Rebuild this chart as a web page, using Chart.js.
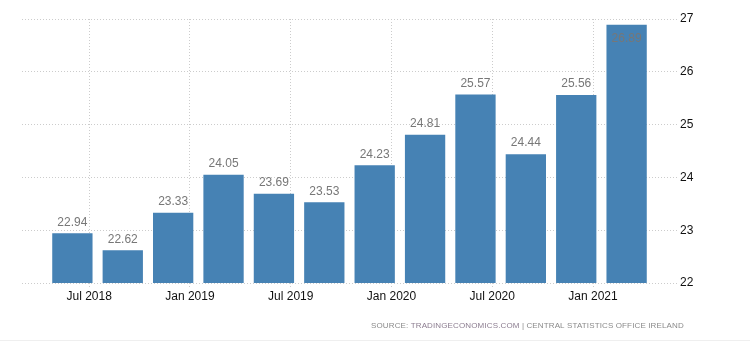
<!DOCTYPE html>
<html>
<head>
<meta charset="utf-8">
<script src="https://cdn.jsdelivr.net/npm/chart.js@4.4.1/dist/chart.umd.min.js"></script>
<style>
  html, body { margin: 0; padding: 0; background: #fff; }
  #wrap { position: relative; width: 750px; height: 343px; }
</style>
</head>
<body>
<div id="wrap"><canvas id="chart" width="750" height="343"></canvas></div>
<script>
const quarters = ['2018 Q2', '2018 Q3', '2018 Q4', '2019 Q1', '2019 Q2', '2019 Q3', '2019 Q4', '2020 Q1', '2020 Q2', '2020 Q3', '2020 Q4', '2021 Q1'];
const values = [22.94, 22.62, 23.33, 24.05, 23.69, 23.53, 24.23, 24.81, 25.57, 24.44, 25.56, 26.89];
const tickLabels = ['Jul 2018', 'Jan 2019', 'Jul 2019', 'Jan 2020', 'Jul 2020', 'Jan 2021'];
const yMin = 22;
const yMax = 27;
const sourceParts = ['SOURCE: ', 'TRADINGECONOMICS.COM', ' | CENTRAL STATISTICS OFFICE IRELAND'];

const MONTHS = ['Jan', 'Feb', 'Mar', 'Apr', 'May', 'Jun', 'Jul', 'Aug', 'Sep', 'Oct', 'Nov', 'Dec'];
const BASE_YEAR = 2018;
const FONT = '"Liberation Sans", Arial, sans-serif';

// month index counted from Jan of BASE_YEAR
function quarterToMonth(q) {
  const [y, qq] = q.split(' ');
  return (Number(y) - BASE_YEAR) * 12 + Number(qq.slice(1)) * 3 - 1;
}

function labelToMonth(l) {
  const [m, y] = l.split(' ');
  return (Number(y) - BASE_YEAR) * 12 + MONTHS.indexOf(m);
}

const points = quarters.map((q, i) => ({ x: quarterToMonth(q), y: values[i] }));

const valueLabels = {
  id: 'valueLabels',
  afterDatasetsDraw(chart) {
    const ctx = chart.ctx;
    const top = chart.chartArea.top;
    ctx.save();
    ctx.font = '12px ' + FONT;
    ctx.fillStyle = '#777';
    ctx.textAlign = 'center';
    chart.getDatasetMeta(0).data.forEach((bar, i) => {
      const text = values[i].toFixed(2);
      if (bar.y - 20 < top) {
        // no room above the bar, put it inside
        ctx.textBaseline = 'top';
        ctx.fillText(text, bar.x, bar.y + 8);
      } else {
        ctx.textBaseline = 'bottom';
        ctx.fillText(text, bar.x, bar.y - 5);
      }
    });
    ctx.restore();
  }
};

const sourceLine = {
  id: 'sourceLine',
  afterDraw(chart) {
    const ctx = chart.ctx;
    const left = 371;
    const right = 684;
    ctx.save();
    ctx.font = '8px ' + FONT;
    ctx.textBaseline = 'alphabetic';
    ctx.textAlign = 'left';
    // spread the letters so the line spans left..right
    const full = sourceParts.join('');
    const natural = ctx.measureText(full).width;
    if ('letterSpacing' in ctx) ctx.letterSpacing = ((right - left - natural) / full.length).toFixed(2) + 'px';
    const colors = ['#8a8a8a', '#8c7d90', '#8a8a8a'];
    let x = left;
    sourceParts.forEach((part, i) => {
      ctx.fillStyle = colors[i];
      ctx.fillText(part, x, 328);
      x += ctx.measureText(part).width;
    });
    ctx.fillStyle = '#efefef';
    ctx.fillRect(0, 340, chart.width, 1);
    ctx.restore();
  }
};

new Chart(document.getElementById('chart').getContext('2d'), {
  type: 'bar',
  data: {
    datasets: [
      {
        data: points,
        backgroundColor: '#4682b4',
        borderWidth: 0,
        barPercentage: 0.8,
        categoryPercentage: 1,
      },
    ],
  },
  options: {
    responsive: false,
    animation: false,
    devicePixelRatio: 1,
    layout: { padding: { left: 22, top: 19, right: 0, bottom: 0 } },
    plugins: {
      legend: { display: false },
      tooltip: { enabled: false },
    },
    scales: {
      x: {
        type: 'linear',
        offset: false,
        min: points[0].x - 3,
        max: points[points.length - 1].x + 3,
        afterBuildTicks: scale => {
          scale.ticks = tickLabels.map(l => ({ value: labelToMonth(l) }));
        },
        afterFit: scale => {
          scale.height = 60;
        },
        ticks: {
          autoSkip: false,
          maxRotation: 0,
          padding: 1,
          color: '#111',
          font: { size: 12, family: FONT },
          callback: (v, i) => tickLabels[i],
        },
        grid: {
          offset: false,
          color: '#cccccc',
          tickColor: '#cccccc',
          tickLength: 5,
          tickBorderDash: [1, 2],
        },
        border: { display: false, dash: [1, 2] },
      },
      y: {
        position: 'right',
        min: yMin,
        max: yMax,
        afterFit: scale => {
          scale.width = 73;
        },
        ticks: {
          stepSize: 1,
          padding: 3,
          color: '#111',
          font: { size: 12, family: FONT },
        },
        grid: {
          drawTicks: false,
          color: '#cccccc',
        },
        border: { display: false, dash: [1, 2] },
      },
    },
  },
  plugins: [valueLabels, sourceLine],
});
</script>
</body>
</html>
